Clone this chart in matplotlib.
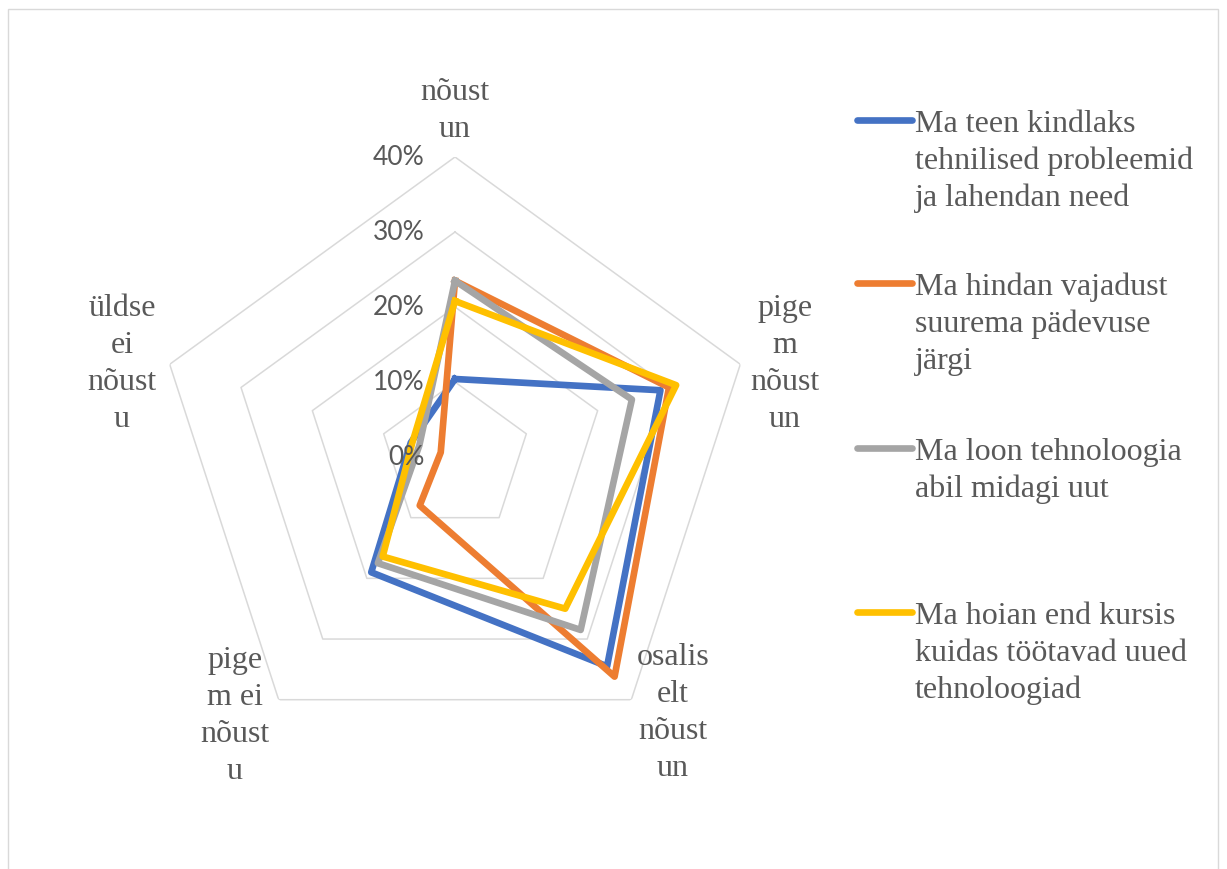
import matplotlib
matplotlib.use('Agg')

import numpy as np
import matplotlib.pyplot as plt
from matplotlib.lines import Line2D
from matplotlib.patches import Rectangle

# axis categories (wrapped the same way as in the original chart)
categories = ['nõust\nun', 'pige\nm\nnõust\nun', 'osalis\nelt\nnõust\nun',
              'pige\nm ei\nnõust\nu', 'üldse\nei\nnõust\nu']

series_names = ['Ma teen kindlaks\ntehnilised probleemid\nja lahendan need',
                'Ma hindan vajadust\nsuurema pädevuse\njärgi',
                'Ma loon tehnoloogia\nabil midagi uut',
                'Ma hoian end kursis\nkuidas töötavad uued\ntehnoloogiad']

blue = [0.104, 0.288, 0.345, 0.190, 0.062]
orange = [0.235, 0.300, 0.362, 0.080, 0.020]
gray = [0.235, 0.248, 0.285, 0.175, 0.050]
yellow = [0.208, 0.310, 0.250, 0.164, 0.060]

ticks = [0, 0.1, 0.2, 0.3, 0.4]
tick_labels = ['0%', '10%', '20%', '30%', '40%']

colors = ['#4472C4', '#ED7D31', '#A5A5A5', '#FFC000']
TXT = '#595959'
GRID = '#D9D9D9'

W, H = 1227, 870
cx, cy, R = 455, 458, 300

fig = plt.figure(figsize=(W / 100, H / 100), dpi=100)
ax = fig.add_axes([(cx - R) / W, (H - cy - R) / H, 2 * R / W, 2 * R / H],
                  projection='polar')
ax.set_theta_offset(np.pi / 2)
ax.set_theta_direction(-1)
ax.set_ylim(0, 0.4)
ax.set_axis_off()

n = len(categories)
ang = np.linspace(0, 2 * np.pi, n, endpoint=False)
ang_c = np.append(ang, ang[0])

# pentagon grid rings
for t in ticks[1:]:
    ax.plot(ang_c, [t] * (n + 1), color=GRID, lw=1.1, zorder=1)

for vals, c in zip([blue, orange, gray, yellow], colors):
    ax.plot(ang_c, vals + vals[:1], color=c, lw=4.8, zorder=3,
            solid_joinstyle='round')

for t, lab in zip(ticks, tick_labels):
    ax.annotate(lab, xy=(0, t), xytext=(-22, 0), textcoords='offset points',
                ha='right', va='center', fontsize=19, color=TXT,
                family='Lato', zorder=4)

# category labels, one text per line
lab_x = [455, 785, 673, 235, 122]
lab_y = [100, 316, 665, 668, 316]
for cat, x, y in zip(categories, lab_x, lab_y):
    for i, line in enumerate(cat.split('\n')):
        fig.text(x / W, 1 - (y + 37 * i) / H, line, ha='center', va='baseline',
                 fontsize=23, color=TXT, family='Liberation Serif')

# legend on the right
leg_y = [121, 284, 449, 613]
for name, c, y in zip(series_names, colors, leg_y):
    fig.add_artist(Line2D([857 / W, 912 / W], [1 - y / H, 1 - y / H],
                          color=c, lw=4.8, solid_capstyle='round'))
    for i, line in enumerate(name.split('\n')):
        fig.text(915 / W, 1 - (y + 11 + 37 * i) / H, line, ha='left',
                 va='baseline', fontsize=23, color=TXT,
                 family='Liberation Serif')

fig.add_artist(Rectangle((8 / W, -0.05), 1210 / W, 1.05 - 10 / H,
                         transform=fig.transFigure, fill=False,
                         ec=GRID, lw=1))

fig.savefig('out.png', dpi=100, facecolor='white')
